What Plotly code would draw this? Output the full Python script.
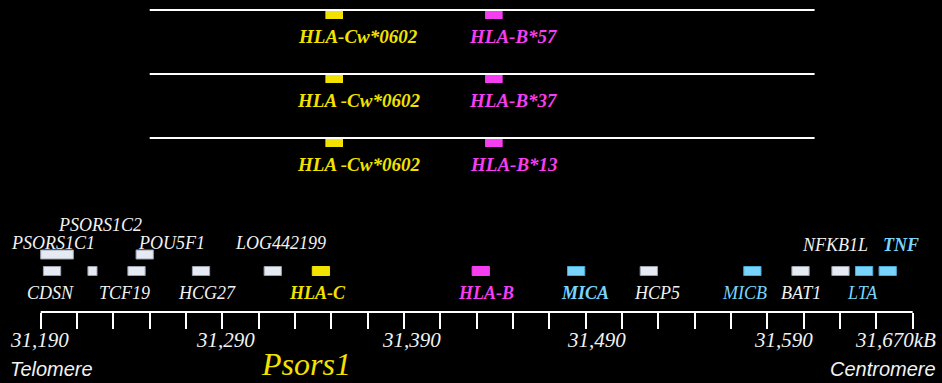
import plotly.graph_objects as go

# ---- data -------------------------------------------------------------
# Risk haplotypes carrying HLA-Cw*0602 with different HLA-B alleles
haplotype_c = ["HLA-Cw*0602", "HLA -Cw*0602", "HLA -Cw*0602"]
haplotype_b = ["HLA-B*57", "HLA-B*37", "HLA-B*13"]
haplotype_span_kb = [31250, 31616]
hla_c_kb = [31346.7, 31356.4]
hla_b_kb = [31434.6, 31444.3]

# Genes of the MHC class I region (positions in kB)
gene_names = ["PSORS1C1", "POU5F1", "CDSN", "PSORS1C2", "TCF19", "HCG27",
              "LOG442199", "HLA-C", "HLA-B", "MICA", "HCP5", "MICB", "BAT1",
              "NFKB1L", "LTA", "TNF"]
gene_start = [31190.0, 31242.5, 31191.5, 31216.0, 31238.0, 31273.5,
              31313.0, 31339.5, 31427.5, 31480.0, 31520.0, 31577.0, 31603.5,
              31625.5, 31638.5, 31651.5]
gene_end = [31208.0, 31252.0, 31201.0, 31221.0, 31247.5, 31283.0,
            31322.5, 31349.0, 31437.0, 31489.5, 31529.5, 31586.5, 31613.0,
            31635.0, 31648.0, 31661.0]
gene_track = ["upper", "upper", "lower", "lower", "lower", "lower",
              "lower", "lower", "lower", "lower", "lower", "lower", "lower",
              "lower", "lower", "lower"]
gene_class = ["other", "other", "other", "other", "other", "other",
              "other", "hla_c", "hla_b", "mic", "other", "mic", "other",
              "other", "mic", "mic"]

# Scale bar
axis_start, axis_end, axis_step = 31190, 31670, 20
scale_values = [31190, 31290, 31390, 31490, 31590, 31670]
scale_labels = ["31,190", "31,290", "31,390", "31,490", "31,590", "31,670kB"]

# ---- styling ----------------------------------------------------------
W, H = 942, 383
X_RANGE = [31167.6, 31686.13]
SERIF = "Liberation Serif"
SANS = "Liberation Sans"
YELLOW = "#f2e200"
MAGENTA = "#f43ef0"
BLUE = "#78d4fc"
WHITE = "#f2f2f2"

box_fill = {"other": "#e6ebf3", "hla_c": YELLOW, "hla_b": MAGENTA, "mic": BLUE}
box_edge = {"other": "#9aa2ae", "hla_c": YELLOW, "hla_b": MAGENTA, "mic": "#4aa8d4"}
track_y = {"upper": (250, 259), "lower": (266.5, 275.5)}

# label placement: (row y, x offset in px from box centre, colour, bold)
label_style = {
    "PSORS1C1": (243, -4, WHITE, False),
    "POU5F1": (243, 27, WHITE, False),
    "CDSN": (293, -2, WHITE, False),
    "PSORS1C2": (225, 8, WHITE, False),
    "TCF19": (293, -12, WHITE, False),
    "HCG27": (293, 6, WHITE, False),
    "LOG442199": (243, 8, WHITE, False),
    "HLA-C": (293, -3, YELLOW, True),
    "HLA-B": (293, 5, MAGENTA, True),
    "MICA": (293, 9, BLUE, True),
    "HCP5": (293, 8, WHITE, False),
    "MICB": (293, -8, BLUE, False),
    "BAT1": (293, 0, WHITE, False),
    "NFKB1L": (245, -5, WHITE, False),
    "LTA": (293, -2, BLUE, False),
    "TNF": (245, 13, BLUE, True),
}
scale_shift = [-1, 3, 7, 11, 16, -17]

shapes = []
annotations = []

# haplotype rows
row_y = [10, 74, 138]
for y0, c_txt, b_txt in zip(row_y, haplotype_c, haplotype_b):
    shapes.append(dict(type="line", xref="x", yref="y",
                       x0=haplotype_span_kb[0], x1=haplotype_span_kb[1],
                       y0=y0, y1=y0, line=dict(color="white", width=2)))
    for span, col in ((hla_c_kb, YELLOW), (hla_b_kb, MAGENTA)):
        shapes.append(dict(type="rect", xref="x", yref="y",
                           x0=span[0], x1=span[1], y0=y0 + 1, y1=y0 + 9,
                           fillcolor=col, line=dict(width=0)))
    for txt, span, col, dx in ((c_txt, hla_c_kb, YELLOW, 24),
                               (b_txt, hla_b_kb, MAGENTA, 20)):
        annotations.append(dict(x=(span[0] + span[1]) / 2, y=y0 + 26,
                                xref="x", yref="y", text=txt, showarrow=False,
                                xshift=dx, xanchor="center", yanchor="middle",
                                font=dict(family=SERIF, size=19, color=col,
                                          style="italic", weight="bold")))

# gene boxes and names
for name, s, e, tr, cl in zip(gene_names, gene_start, gene_end, gene_track, gene_class):
    y0, y1 = track_y[tr]
    shapes.append(dict(type="rect", xref="x", yref="y", x0=s, x1=e, y0=y0, y1=y1,
                       fillcolor=box_fill[cl], line=dict(color=box_edge[cl], width=1)))
    ly, dx, col, bold = label_style[name]
    annotations.append(dict(x=(s + e) / 2, y=ly, xref="x", yref="y", text=name,
                            showarrow=False, xshift=dx, xanchor="center",
                            yanchor="middle",
                            font=dict(family=SERIF, size=18, color=col,
                                      style="italic",
                                      weight="bold" if bold else "normal")))

# scale bar line
shapes.append(dict(type="line", xref="x", yref="y", x0=axis_start, x1=axis_end,
                   y0=312, y1=312, line=dict(color="white", width=2)))

for v, t, dx in zip(scale_values, scale_labels, scale_shift):
    annotations.append(dict(x=v, y=340, xref="x", yref="y", text=t, showarrow=False,
                            xshift=dx, xanchor="center", yanchor="middle",
                            font=dict(family=SERIF, size=21, color=WHITE,
                                      style="italic")))

annotations.append(dict(x=8 / W, y=369, xref="paper", yref="y", text="Telomere",
                        showarrow=False, xanchor="left", yanchor="middle",
                        font=dict(family=SANS, size=20, color=WHITE,
                                  style="italic")))
annotations.append(dict(x=938 / W, y=369, xref="paper", yref="y", text="Centromere",
                        showarrow=False, xanchor="right", yanchor="middle",
                        font=dict(family=SANS, size=20, color=WHITE,
                                  style="italic")))
annotations.append(dict(x=31336, y=364, xref="x", yref="y", text="Psors1",
                        showarrow=False, xanchor="center", yanchor="middle",
                        font=dict(family=SERIF, size=32, color=YELLOW,
                                  style="italic")))

fig = go.Figure()
fig.update_layout(
    width=W, height=H,
    margin=dict(l=0, r=0, t=0, b=0),
    paper_bgcolor="black", plot_bgcolor="black",
    showlegend=False,
    xaxis=dict(range=X_RANGE, showgrid=False, zeroline=False, showline=False,
               anchor="free", position=1 - 312 / H, side="bottom",
               ticks="outside", ticklen=16, tickwidth=2, tickcolor="white",
               tickmode="array",
               tickvals=list(range(axis_start, axis_end + 1, axis_step)),
               showticklabels=False, fixedrange=True),
    yaxis=dict(range=[H, 0], visible=False, fixedrange=True),
    shapes=shapes,
    annotations=annotations,
)

fig.write_html("out.html")
